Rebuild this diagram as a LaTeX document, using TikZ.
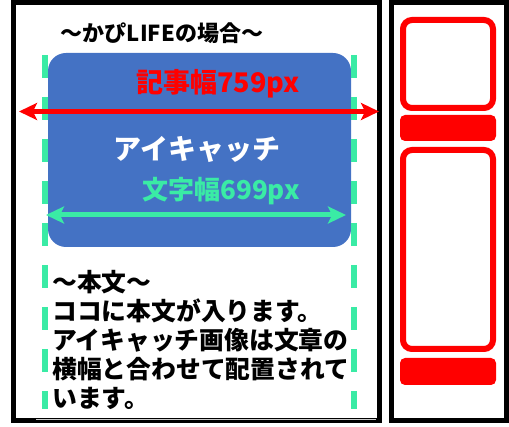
\documentclass[tikz,border=0pt]{standalone}
\usepackage{fontspec}
\setmainfont{Noto Sans CJK JP}
\usetikzlibrary{arrows.meta}

\definecolor{eyeblue}{HTML}{4472C4}
\definecolor{mint}{HTML}{3AEBA5}

\begin{document}
\begin{tikzpicture}[x=1pt, y=-1pt, >={Stealth[length=18pt, width=17pt, inset=4pt]}]

% --- スタイル ---
\tikzset{
  frame/.style={draw=black, line width=5pt},
  guide/.style={draw=mint, line width=5.5pt, dash pattern=on 23pt off 19pt},
  sidebox/.style={draw=red, line width=6pt, rounded corners=9pt},
  sidebar/.style={fill=red, rounded corners=5pt},
  label/.style={inner sep=0pt, font=\bfseries}
}

\useasboundingbox (0,0) rectangle (509,427);

% --- 枠 ---
\draw[frame] (13.5,2.5) rectangle (379,421);   % 本文エリア
\draw[frame] (391.5,2.5) rectangle (506.5,421); % サイドバー
\draw[black!20, line width=1.5pt] (36,419.5) -- (376,419.5);

% --- アイキャッチ画像 ---
\fill[eyeblue, rounded corners=18pt] (48,53) rectangle (351,247);

% --- 文字幅のガイド線 ---
\draw[guide] (45,55) -- (45,409);
\draw[guide] (354,55) -- (354,409);

% --- 矢印の端点 ---
\coordinate (kijiL) at (19,111.5);
\coordinate (kijiR) at (379,111.5);
\coordinate (mojiL) at (46,215);
\coordinate (mojiR) at (346,215);

\draw[<->, red, line width=5.5pt] (kijiL) -- (kijiR);   % 記事幅
\draw[<->, mint, line width=5pt] (mojiL) -- (mojiR);    % 文字幅

% --- テキスト ---
\node[label, font=\bfseries\fontsize{22}{24}\selectfont] (title) at (162,33) {〜かぴLIFEの場合〜};
\node[label, red, font=\bfseries\fontsize{27}{30}\selectfont] (kiji) at (218,84) {記事幅759px};
\node[label, white, font=\bfseries\fontsize{28}{30}\selectfont] (eyecatch) at (197,149) {アイキャッチ};
\node[label, mint, font=\bfseries\fontsize{26}{30}\selectfont] (moji) at (221,191) {文字幅699px};

\node[label, anchor=north west, align=left,
      font=\bfseries\fontsize{24.8}{29}\selectfont] (honbun) at (52,270)
  {〜本文〜\\
   ココに本文が入ります。\\
   アイキャッチ画像は文章の\\
   横幅と合わせて配置されて\\
   います。};

% --- サイドバー ---
\draw[sidebox] (403,20) rectangle (493,108);
\fill[sidebar] (400,115) rectangle (496,141);
\draw[sidebox] (403,150) rectangle (493,349);
\fill[sidebar] (400,358) rectangle (496,385);

\end{tikzpicture}
\end{document}
